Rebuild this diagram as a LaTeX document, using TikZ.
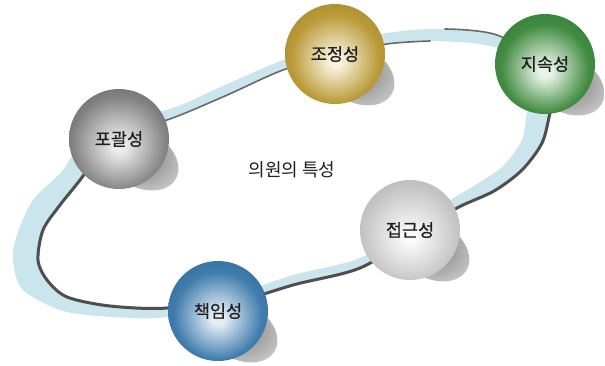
\documentclass[tikz,border=0pt]{standalone}
\usepackage{fontspec}
\setmainfont{Noto Sans CJK KR}
\newfontfamily\labfont{Noto Sans CJK KR}[FakeBold=0.6]
\definecolor{ringblue}{RGB}{202,230,236}
\definecolor{ringdark}{RGB}{78,78,80}
\definecolor{goldhi}{RGB}{248,242,220}
\definecolor{goldmid}{RGB}{186,154,56}
\definecolor{golddark}{RGB}{140,110,24}
\definecolor{greenhi}{RGB}{232,244,232}
\definecolor{greenmid}{RGB}{66,140,66}
\definecolor{greendark}{RGB}{32,104,38}
\definecolor{grayhi}{RGB}{236,236,236}
\definecolor{graymid}{RGB}{128,128,128}
\definecolor{graydark}{RGB}{76,76,76}
\definecolor{lghi}{RGB}{250,250,250}
\definecolor{lgmid}{RGB}{196,196,196}
\definecolor{lgdark}{RGB}{156,156,156}
\definecolor{bluehi}{RGB}{228,238,246}
\definecolor{bluemid}{RGB}{64,124,172}
\definecolor{bluedark}{RGB}{28,88,138}
\pgfdeclareradialshading{goldball}{\pgfpoint{0bp}{-4bp}}{color(0bp)=(goldhi); color(3bp)=(goldhi); color(22bp)=(goldmid); color(46bp)=(golddark); color(50bp)=(golddark)}
\pgfdeclareradialshading{greenball}{\pgfpoint{0bp}{-4bp}}{color(0bp)=(greenhi); color(3bp)=(greenhi); color(22bp)=(greenmid); color(46bp)=(greendark); color(50bp)=(greendark)}
\pgfdeclareradialshading{grayball}{\pgfpoint{0bp}{-4bp}}{color(0bp)=(grayhi); color(3bp)=(grayhi); color(24bp)=(graymid); color(46bp)=(graydark); color(50bp)=(graydark)}
\pgfdeclareradialshading{lgball}{\pgfpoint{0bp}{-4bp}}{color(0bp)=(lghi); color(3bp)=(lghi); color(24bp)=(lgmid); color(46bp)=(lgdark); color(50bp)=(lgdark)}
\pgfdeclareradialshading{blueball}{\pgfpoint{0bp}{-4bp}}{color(0bp)=(bluehi); color(3bp)=(bluehi); color(22bp)=(bluemid); color(46bp)=(bluedark); color(50bp)=(bluedark)}
\tikzset{
  ball/.style={circle, shade, shading=#1, minimum size=100pt, inner sep=0pt,
    font=\labfont\fontsize{17.5}{20}\selectfont, text=black!88},
  shadowsty/.style={inner color=black!50, outer color=black!24},
  darkedge/.style={draw=ringdark, line width=3pt, line cap=round},
  thinedge/.style={draw=ringdark!85, line width=1.6pt, line cap=round},
}
\begin{document}
\begin{tikzpicture}[x=1pt, y=-1pt]
\useasboundingbox (0,0) rectangle (605,365);
\fill[white] (0,0) rectangle (605,365);
% ring band
\fill[ringblue, even odd rule]
  plot[smooth cycle] coordinates {(95,125) (167,110) (225,85) (283,60) (335,45) (387,33) (437,29) (497,35) (560,70) (550,113) (542,143) (522,170) (494,191) (457,208) (420,232) (360,268) (293,285) (230,305) (167,317) (133,318) (67,312) (23,290) (13,260) (17,235) (33,200) (63,170)}
  plot[smooth cycle] coordinates {(110,135) (167,120) (225,96) (283,70) (335,56) (387,44) (437,41) (497,48) (540,80) (527,113) (522,140) (502,167) (472,187) (450,200) (415,222) (360,258) (293,275) (230,296) (167,308) (110,306) (67,297) (47,280) (38,260) (43,230) (60,205) (83,176)};
% dark edges of the ribbon
\draw[thinedge] plot[smooth] coordinates {(430,41) (387,44) (335,56) (283,70) (225,96) (167,120) (110,135)};
\draw[darkedge] plot[smooth] coordinates {(110,135) (83,176) (60,205) (43,230) (38,260) (47,280) (67,297) (110,306) (167,308) (230,296)};
\draw[darkedge] plot[smooth] coordinates {(230,305) (293,285) (360,268) (420,232) (457,208) (494,191) (522,170) (542,143) (550,113) (560,70)};
\draw[thinedge] plot[smooth] coordinates {(560,70) (497,35) (445,29)};
% sphere centres
\coordinate (c1) at (335,54);
\coordinate (c2) at (545,64);
\coordinate (c3) at (119,139);
\coordinate (c4) at (410,230);
\coordinate (c5) at (218,311);
% shadows
\foreach \c in {c1,c2,c3,c4,c5}{
  \shade[shadowsty, shift={(\c)}, shift={(22,20)}, rotate=-30] (0,0) ellipse [x radius=40pt, y radius=28pt];
}
% spheres
\node[ball=goldball] (jojeong) at (c1) {조정성};
\node[ball=greenball] (jisok) at (c2) {지속성};
\node[ball=grayball] (pogwal) at (c3) {포괄성};
\node[ball=lgball] (jeopgeun) at (c4) {접근성};
\node[ball=blueball] (chaegim) at (c5) {책임성};
\node[font=\fontsize{18}{21}\selectfont, text=black!88] (title) at (292,170) {의원의 특성};
\end{tikzpicture}
\end{document}
